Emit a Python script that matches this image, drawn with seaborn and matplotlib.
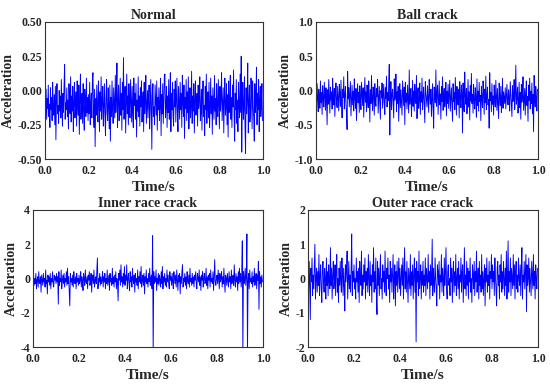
import numpy as np
import pandas as pd
import matplotlib
matplotlib.use("Agg")
import matplotlib.pyplot as plt
import seaborn as sns

# Señales leídas a ojo de la figura (400 muestras en 1 s, una fila = 0.1 s)
normal = [
    -0.08, -0.16, 0.01, -0.21, -0.06, -0.13, 0.04, -0.19, -0.10, -0.27, 0.02, -0.14, -0.05, -0.22, 0.06, -0.12, -0.18, -0.03, -0.25, 0.03,
    -0.36, -0.07, 0.05, -0.17, -0.11, -0.24, 0.00, -0.15, -0.04, -0.20, 0.08, -0.13, -0.26, -0.02, -0.16, 0.04, 0.19, -0.21, -0.09, -0.14,
    0.02, -0.19, -0.07, -0.28, 0.05, -0.12, -0.17, 0.10, -0.23, -0.04, -0.15, 0.03, -0.30, -0.09, 0.06, -0.20, -0.13, -0.01, -0.26, 0.07,
    -0.11, -0.18, 0.04, -0.32, -0.06, 0.12, -0.21, -0.10, -0.02, -0.24, 0.05, -0.14, -0.29, 0.01, -0.08, -0.19, 0.09, -0.16, -0.05, -0.22,
    -0.03, -0.17, 0.06, -0.25, -0.10, -0.02, -0.20, 0.08, 0.13, -0.14, -0.27, 0.01, -0.41, -0.06, -0.18, 0.04, -0.12, -0.23, 0.07, -0.09,
    -0.30, -0.01, -0.15, 0.10, -0.21, -0.07, 0.03, -0.26, -0.12, 0.05, -0.18, -0.33, -0.04, 0.08, -0.16, -0.22, 0.02, -0.11, -0.28, 0.04,
    -0.37, -0.05, -0.19, 0.07, -0.13, -0.24, 0.02, -0.09, -0.20, 0.11, -0.16, -0.03, 0.20, -0.27, -0.08, 0.04, -0.22, -0.12, 0.09, -0.18,
    -0.02, -0.29, 0.06, -0.14, 0.24, -0.21, -0.06, 0.03, -0.31, -0.10, 0.12, -0.17, -0.04, -0.25, 0.05, -0.13, -0.20, 0.08, -0.08, -0.23,
    0.03, -0.16, -0.27, 0.09, -0.11, -0.02, -0.21, 0.05, -0.34, -0.07, -0.15, 0.10, -0.19, -0.04, -0.26, 0.02, -0.12, 0.07, -0.23, -0.09,
    -0.01, -0.30, 0.06, -0.17, -0.08, 0.11, -0.24, -0.13, 0.00, -0.20, -0.06, 0.04, -0.28, -0.15, 0.08, -0.10, -0.43, -0.03, 0.05, -0.19,
    -0.12, -0.25, 0.04, -0.08, -0.18, 0.07, -0.29, -0.05, -0.14, 0.02, -0.22, -0.10, 0.09, -0.33, -0.03, -0.17, 0.05, -0.24, -0.07, 0.10,
    0.12, -0.20, -0.11, 0.03, -0.27, -0.04, -0.16, 0.08, -0.21, -0.09, 0.13, -0.30, -0.02, -0.14, 0.06, -0.19, -0.26, 0.01, -0.12, 0.07,
    -0.23, -0.06, 0.09, -0.17, -0.30, 0.03, -0.10, -0.21, 0.06, -0.14, -0.02, -0.27, 0.11, -0.08, -0.19, 0.04, -0.35, -0.05, -0.13, 0.08,
    -0.22, -0.01, -0.16, 0.10, -0.28, -0.09, 0.02, -0.20, -0.12, 0.14, -0.24, -0.04, -0.15, 0.05, -0.31, -0.07, 0.07, -0.18, -0.11, -0.02,
    -0.26, 0.04, -0.13, -0.07, 0.10, -0.22, -0.16, 0.01, -0.29, -0.05, 0.07, -0.19, -0.11, -0.33, 0.03, -0.14, 0.12, -0.24, -0.08, -0.01,
    -0.20, 0.06, -0.27, -0.12, 0.09, -0.17, -0.04, -0.32, 0.02, -0.10, -0.21, 0.11, -0.15, -0.06, -0.25, 0.05, -0.13, -0.19, 0.08, -0.09,
    -0.28, 0.03, -0.15, -0.06, 0.13, -0.22, -0.10, 0.02, -0.31, -0.08, 0.09, -0.18, -0.13, 0.05, -0.25, -0.03, -0.34, 0.07, -0.16, -0.09,
    0.11, -0.21, -0.05, -0.27, 0.04, -0.12, 0.15, -0.19, -0.37, -0.02, -0.14, 0.08, -0.24, -0.07, -0.30, 0.06, -0.11, -0.20, 0.12, -0.16,
    0.25, -0.45, -0.08, 0.06, -0.21, -0.13, 0.10, -0.27, -0.46, 0.02, -0.17, -0.06, 0.20, -0.31, -0.10, 0.04, -0.23, -0.15, 0.09, -0.04,
    -0.28, 0.07, -0.12, -0.20, -0.37, 0.05, -0.16, -0.08, 0.17, -0.25, -0.02, -0.14, 0.08, -0.30, -0.07, 0.03, -0.19, -0.11, 0.05, -0.22,
]
ball = [
    -0.05, -0.22, 0.10, -0.15, -0.31, 0.02, -0.09, -0.26, 0.14, -0.18, -0.03, -0.35, 0.07, -0.12, -0.24, 0.12, -0.07, -0.29, 0.04, -0.16,
    -0.50, 0.01, -0.20, 0.16, -0.11, -0.33, 0.05, -0.14, -0.02, -0.27, 0.18, -0.09, -0.21, 0.03, -0.38, -0.06, 0.11, -0.17, -0.25, 0.06,
    -0.13, -0.30, 0.09, -0.04, -0.23, 0.15, -0.16, -0.40, 0.02, -0.10, 0.20, -0.27, -0.07, 0.06, -0.19, -0.34, -0.57, 0.28, -0.12, 0.04,
    -0.24, -0.05, 0.13, -0.37, -0.15, 0.08, -0.21, -0.01, -0.30, 0.17, -0.11, -0.26, 0.03, -0.44, -0.08, 0.10, -0.18, -0.03, -0.32, 0.07,
    -0.14, -0.28, 0.12, -0.06, -0.22, 0.04, -0.39, -0.10, 0.19, -0.17, -0.02, -0.31, 0.08, -0.13, -0.25, 0.14, -0.08, -0.46, 0.01, -0.19,
    0.22, -0.12, -0.29, 0.05, -0.04, -0.36, 0.10, -0.16, -0.23, 0.03, -0.09, 0.16, -0.33, -0.14, 0.06, -0.20, -0.42, 0.00, -0.11, 0.11,
    -0.26, -0.07, 0.09, -0.18, -0.35, 0.04, -0.12, 0.21, -0.24, -0.03, -0.15, 0.07, 0.38, -0.65, -0.10, 0.13, -0.28, -0.05, 0.02, -0.21,
    -0.40, 0.17, -0.14, -0.08, 0.24, -0.31, -0.02, -0.19, 0.06, -0.45, -0.11, 0.10, -0.25, 0.01, -0.16, -0.36, 0.14, -0.06, -0.22, 0.05,
    -0.50, 0.12, -0.17, -0.04, -0.27, 0.08, -0.12, -0.33, 0.30, -0.20, -0.07, 0.03, -0.38, -0.14, 0.15, -0.23, -0.01, -0.30, 0.09, -0.10,
    -0.19, 0.22, -0.41, -0.06, 0.04, -0.26, -0.13, 0.11, -0.35, -0.02, -0.17, 0.18, -0.28, -0.09, 0.05, -0.22, -0.47, 0.13, -0.04, -0.15,
    -0.24, 0.07, -0.11, -0.32, 0.16, -0.06, -0.20, 0.02, -0.38, -0.14, 0.10, -0.27, -0.55, 0.05, -0.09, -0.18, 0.30, -0.23, -0.03, 0.08,
    -0.35, -0.12, 0.14, -0.21, -0.05, -0.42, 0.06, -0.16, 0.20, -0.29, -0.08, 0.03, -0.24, -0.13, 0.12, -0.37, -0.01, -0.19, 0.09, -0.26,
    -0.07, 0.15, -0.30, -0.12, 0.04, -0.22, -0.45, 0.10, -0.16, -0.03, -0.28, 0.19, -0.09, -0.36, 0.06, -0.14, -0.21, 0.02, -0.40, 0.13,
    -0.11, -0.25, 0.08, -0.05, -0.62, 0.11, -0.18, -0.31, 0.27, -0.08, -0.20, 0.03, -0.34, -0.13, 0.16, -0.24, -0.02, -0.43, 0.07, -0.15,
    0.25, -0.19, -0.06, -0.33, 0.09, -0.14, -0.27, 0.04, -0.10, -0.39, 0.17, -0.22, -0.01, -0.30, 0.12, -0.16, -0.07, -0.44, 0.06, -0.12,
    -0.25, 0.14, -0.04, -0.35, 0.02, -0.18, 0.21, -0.28, -0.09, 0.05, -0.21, -0.13, -0.55, 0.26, -0.15, -0.03, -0.31, 0.10, -0.20, -0.08,
    -0.36, 0.08, -0.13, -0.24, 0.15, -0.05, -0.29, 0.03, -0.17, -0.41, 0.11, -0.09, -0.22, 0.06, -0.32, -0.14, 0.18, -0.26, -0.02, -0.11,
    -0.19, 0.04, -0.27, -0.07, 0.09, -0.15, -0.21, 0.01, -0.12, -0.30, 0.13, -0.04, -0.23, -0.38, 0.07, -0.16, -0.09, 0.16, -0.28, -0.06,
    0.37, -0.20, -0.11, 0.05, -0.33, -0.14, 0.12, -0.25, -0.03, -0.42, 0.09, -0.17, -0.07, 0.20, -0.29, -0.12, 0.03, -0.36, -0.05, 0.14,
    -0.22, -0.09, -0.45, 0.08, -0.15, 0.18, -0.27, -0.01, -0.19, 0.11, -0.34, -0.06, -0.60, 0.22, -0.13, -0.24, 0.06, -0.10, -0.30, 0.02,
]
inner = [
    -0.2, 0.2, -0.4, 0.0, -0.3, 0.3, -0.6, -0.1, 0.1, -0.5, 0.4, -0.2, -0.3, 0.1, -0.8, 0.2, -0.1, -0.4, 0.3, -0.2,
    0.0, -0.5, 0.5, -0.3, -0.1, -0.9, 0.2, -0.2, 0.1, -0.4, 0.3, -0.6, 0.0, -0.2, 0.4, -0.3, -0.5, 0.2, -0.1, 0.1,
    -0.3, 0.3, -0.2, 0.1, -1.5, 0.4, -0.4, 0.0, -0.2, 0.5, -0.6, -0.1, 0.2, -0.3, 0.3, -0.5, 0.0, -0.2, 0.4, -0.4,
    0.6, -0.3, 0.1, -0.7, -1.6, 0.3, -0.2, 0.0, -0.4, 0.2, -0.5, 0.4, -0.1, -0.3, 0.1, -0.6, 0.3, -0.2, 0.0, -0.4,
    0.2, -0.3, -0.1, 0.4, -0.5, 0.1, -0.2, -0.7, 0.3, 0.0, -0.4, 0.5, -0.2, -0.3, 0.1, -0.6, 0.2, -0.1, 0.4, -0.4,
    -0.2, 0.3, -0.8, 0.0, 0.2, -0.3, 0.5, -0.5, -0.1, 0.1, -0.3, 0.4, 1.2, -0.6, 0.0, -0.2, 0.3, -0.4, 0.1, -0.3,
    -0.1, 0.4, -0.5, 0.1, -0.2, 0.3, -0.6, 0.0, -0.3, 0.5, -0.4, -0.1, 0.2, -0.7, 0.3, -0.2, 0.0, -0.4, 0.6, -0.3,
    0.1, -0.5, 0.2, -0.2, 0.4, -0.6, 0.0, -0.3, -1.3, 0.3, -0.1, 0.5, -0.4, 0.8, -0.2, 0.1, -0.5, 0.3, -0.3, 0.7,
    -0.4, 0.2, -0.1, 0.8, -0.6, 0.0, 0.3, -0.3, -0.7, 0.4, -0.2, 0.1, -0.5, 0.6, -0.1, -0.3, 0.2, -0.8, 0.3, -0.2,
    0.0, -0.4, 0.5, -0.6, 0.1, -0.2, 0.4, -0.3, 0.7, -0.5, -0.1, 0.2, -0.4, 0.3, -0.9, 0.1, -0.2, 0.5, -0.3, 0.0,
    -0.5, 0.3, -0.2, 0.6, -0.4, 0.0, 0.2, -0.6, 2.5, -4.5, 0.4, -0.3, 0.1, -0.2, 0.5, -0.7, 0.0, -0.3, 0.3, -0.4,
    0.2, -0.1, -0.5, 0.4, -0.3, 0.7, -0.6, 0.1, -0.2, 0.3, -0.4, 0.0, -0.5, 0.5, -0.2, 0.2, -0.3, -0.6, 0.4, -0.1,
    0.1, -0.4, 0.3, -0.2, -0.6, 0.4, 0.0, -0.3, 0.2, -0.5, 0.5, -0.1, -0.7, 0.2, -0.2, 0.3, -0.9, 0.1, -0.3, 0.4,
    0.8, -0.5, 0.0, -0.2, 0.3, -0.4, 0.1, -0.6, 0.4, -0.1, -0.3, 0.2, -0.5, 0.6, -0.2, 0.0, -0.4, 0.3, -0.3, 0.1,
    -0.5, 0.2, -0.1, 0.4, -0.3, -0.6, 0.3, 0.0, -0.2, 0.5, -0.4, 0.1, -0.7, 0.2, -0.1, 0.4, -0.5, 0.0, 0.3, -0.3,
    -0.2, 0.6, -0.4, 0.1, -0.6, 0.2, -0.1, 0.3, -0.5, 0.5, -0.2, 0.0, -0.3, 0.4, -0.7, 0.1, 1.1, -0.2, -0.4, 0.0,
    0.2, -0.3, 0.5, -0.1, -0.6, 0.3, -0.2, 0.0, 0.4, -0.5, 0.1, -0.3, 0.6, -0.2, -0.8, 0.2, 0.0, -0.4, 0.3, -0.1,
    -0.5, 0.4, -0.2, 0.1, -0.6, 0.5, -0.3, 0.0, 0.2, -0.4, 0.8, -0.1, -0.5, 0.3, -0.2, 0.1, -0.7, 0.4, -0.3, 0.6,
    -0.2, 0.3, -0.5, 0.1, 2.2, -4.5, 0.4, -0.3, 0.0, 0.6, -0.4, 0.2, 2.6, -4.5, -0.1, 0.3, -0.6, 0.5, -0.2, 0.0,
    -0.3, 0.4, -0.5, 0.1, -0.2, 0.6, -0.4, 0.0, 0.3, -0.6, 0.2, -0.1, 1.0, -1.8, 0.4, -0.3, 0.1, -0.5, 0.2, -0.2,
]
outer = [
    0.2, -0.4, 0.5, -0.2, -1.2, 0.3, -0.1, 0.6, -0.5, 0.1, -0.3, 0.4, 1.0, -0.6, 0.0, 0.3, -0.4, 0.2, -0.2, 0.7,
    -0.5, 0.1, 0.4, -0.3, -0.7, 0.2, 0.5, -0.1, -0.4, 0.3, 0.0, -0.6, 0.6, -0.2, 0.2, -0.5, 0.4, -0.1, -0.3, 0.9,
    -0.2, 0.3, -0.6, 0.1, 0.5, -0.3, -0.1, 0.4, -0.5, 0.2, 0.7, -0.4, 0.0, -0.7, 0.3, -0.2, 0.5, -0.1, -0.4, 0.6,
    0.1, -0.5, 0.3, -0.2, -0.95, 0.4, -0.1, 0.2, 0.8, -0.6, 0.0, 0.5, -0.3, 0.1, -0.4, 0.3, 1.3, -0.5, 0.2, -0.1,
    0.4, -0.3, 0.0, -0.6, 0.6, -0.1, 0.2, -0.4, 0.3, -0.7, 0.5, 0.0, -0.2, 0.8, -0.5, 0.1, -0.3, 0.4, -0.1, 0.6,
    -0.6, 0.2, -0.2, 0.3, -0.4, 0.7, 0.0, -0.5, 0.5, -0.2, 0.1, -0.7, 0.4, -0.1, 0.9, -0.4, 0.2, -0.3, 0.6, -0.5,
    -1.05, 0.5, -0.2, 0.3, -0.5, 0.1, 0.7, -0.3, 0.0, -0.6, 0.4, -0.1, 0.2, -0.4, 0.8, -0.2, -0.5, 0.3, 0.0, 0.6,
    -0.3, 0.1, -0.7, 0.5, -0.1, 0.3, -0.4, 0.2, 0.7, -0.6, 0.0, 0.4, -0.8, 0.2, -0.2, 0.5, -0.4, 0.1, 0.6, -0.3,
    0.3, -0.5, 0.0, 0.4, -0.2, 0.6, -0.6, 0.1, 0.9, -0.3, 0.2, -0.4, 0.5, -0.1, -0.7, 0.3, 0.0, -0.3, 0.7, -0.5,
    0.2, -0.2, 0.4, -0.6, 0.1, 0.6, -0.4, 0.3, -1.85, 0.5, -0.1, 0.2, -0.5, 0.8, -0.3, 0.0, 0.4, -0.6, 0.2, -0.2,
    0.5, -0.4, 0.1, -0.2, 0.6, -0.5, 0.3, 0.0, -0.3, 0.7, -0.1, 0.2, -0.6, 0.4, -0.2, 0.1, 1.15, -0.5, 0.3, -0.1,
    -0.4, 0.6, 0.0, -0.3, -0.8, 0.4, 0.2, -0.2, 0.5, -0.6, 0.1, -0.1, 0.7, -0.4, 0.3, 0.0, -0.5, 0.6, -0.2, 0.2,
    0.9, -0.3, -0.6, 0.2, 0.4, -0.2, 0.0, -0.5, 0.6, -0.1, 0.3, -0.7, 0.1, 0.5, -0.4, 0.2, -0.2, 0.7, -0.5, 0.0,
    0.3, -0.3, 0.5, -0.6, 0.1, -0.1, 0.6, -0.4, 0.2, 0.4, -0.7, 0.0, 0.9, -0.3, 0.1, -0.5, 0.5, -0.2, 0.3, -0.6,
    0.2, -0.1, 0.6, -0.4, 0.0, -0.7, 0.4, 0.1, -0.3, 0.5, -0.5, 0.2, -0.1, 0.8, -0.4, 0.0, 0.3, -0.6, 0.5, -0.2,
    0.1, -0.4, 0.7, -0.3, 0.2, -0.5, 0.0, 0.4, -0.8, 0.3, -0.1, 0.6, -0.4, 0.1, -0.2, 0.5, -0.6, 0.2, 0.0, 0.7,
    -0.3, 0.4, -0.1, 0.2, -0.5, 0.6, 0.0, -0.3, -0.8, 0.3, 0.5, -0.2, 0.1, -0.6, 0.4, -0.1, 0.7, -0.4, 0.2, -0.3,
    0.5, 0.0, -0.5, 0.3, -0.2, 0.8, -0.6, 0.1, 1.1, -0.4, 0.2, -0.1, 0.6, -0.5, 0.3, 0.0, -0.3, 0.7, -0.2, 0.4,
    -0.6, 0.2, 0.5, -0.3, 0.1, -0.4, 0.6, 0.0, -0.2, 0.4, -0.5, 0.3, 0.9, -0.6, 0.1, -0.1, 0.5, -0.3, 0.2, 0.7,
    -0.97, 0.4, -0.2, 0.0, 0.6, -0.4, 0.3, -0.1, -0.5, 0.5, 0.1, -0.3, 0.7, -0.2, 0.2, -0.6, 0.4, 0.0, -0.3, 0.3,
]

titles = ["Normal", "Ball crack", "Inner race crack", "Outer race crack"]
signals = [normal, ball, inner, outer]
ylims = [(-0.5, 0.5), (-1.0, 1.0), (-4, 4), (-2, 2)]
yticks = [[-0.50, -0.25, 0.00, 0.25, 0.50], [-1.0, -0.5, 0.0, 0.5, 1.0],
          [-4, -2, 0, 2, 4], [-2, -1, 0, 1, 2]]
yfmt = ["{:.2f}", "{:.1f}", "{:.0f}", "{:.0f}"]

sns.set_style("white")
plt.rcParams['font.family'] = ['Liberation Serif', 'DejaVu Serif']
plt.rcParams['font.weight'] = 'bold'

fig = plt.figure(figsize=(5.5, 3.86), dpi=100)
# posiciones de los ejes en fracción de figura
boxes = [
    (45 / 550, 1 - 159 / 386, 218 / 550, 137 / 386),
    (316 / 550, 1 - 159 / 386, 222 / 550, 137 / 386),
    (33 / 550, 1 - 347 / 386, 230 / 550, 137 / 386),
    (308 / 550, 1 - 347 / 386, 230 / 550, 137 / 386),
]

for box, title, sig, yl, yt, fmt in zip(boxes, titles, signals, ylims, yticks, yfmt):
    ax = fig.add_axes(box)
    df = pd.DataFrame({"t": np.arange(len(sig)) / len(sig), "a": sig})
    sns.lineplot(data=df, x="t", y="a", ax=ax, color="#0000ff", linewidth=0.65,
                 estimator=None)
    ax.set_xlim(0, 1)
    ax.set_ylim(*yl)
    ax.set_xticks([0.0, 0.2, 0.4, 0.6, 0.8, 1.0])
    ax.set_xticklabels(["0.0", "0.2", "0.4", "0.6", "0.8", "1.0"], fontsize=8.5, fontweight="bold")
    ax.set_yticks(yt)
    ax.set_yticklabels([fmt.format(v) for v in yt], fontsize=8.5, fontweight="bold")
    ax.tick_params(axis="x", direction="in", length=2.5, width=0.6, pad=4)
    ax.tick_params(axis="y", direction="in", length=2.5, width=0.6, pad=2)
    for s in ax.spines.values():
        s.set_linewidth(0.8)
        s.set_color("#333333")
    ax.set_title(title, fontsize=10, fontweight="bold", pad=2)
    ax.set_xlabel("Time/s", fontsize=11, fontweight="bold", labelpad=3)
    ax.set_ylabel("Acceleration", fontsize=10, fontweight="bold", labelpad=2)

fig.savefig("out.png", dpi=100)
